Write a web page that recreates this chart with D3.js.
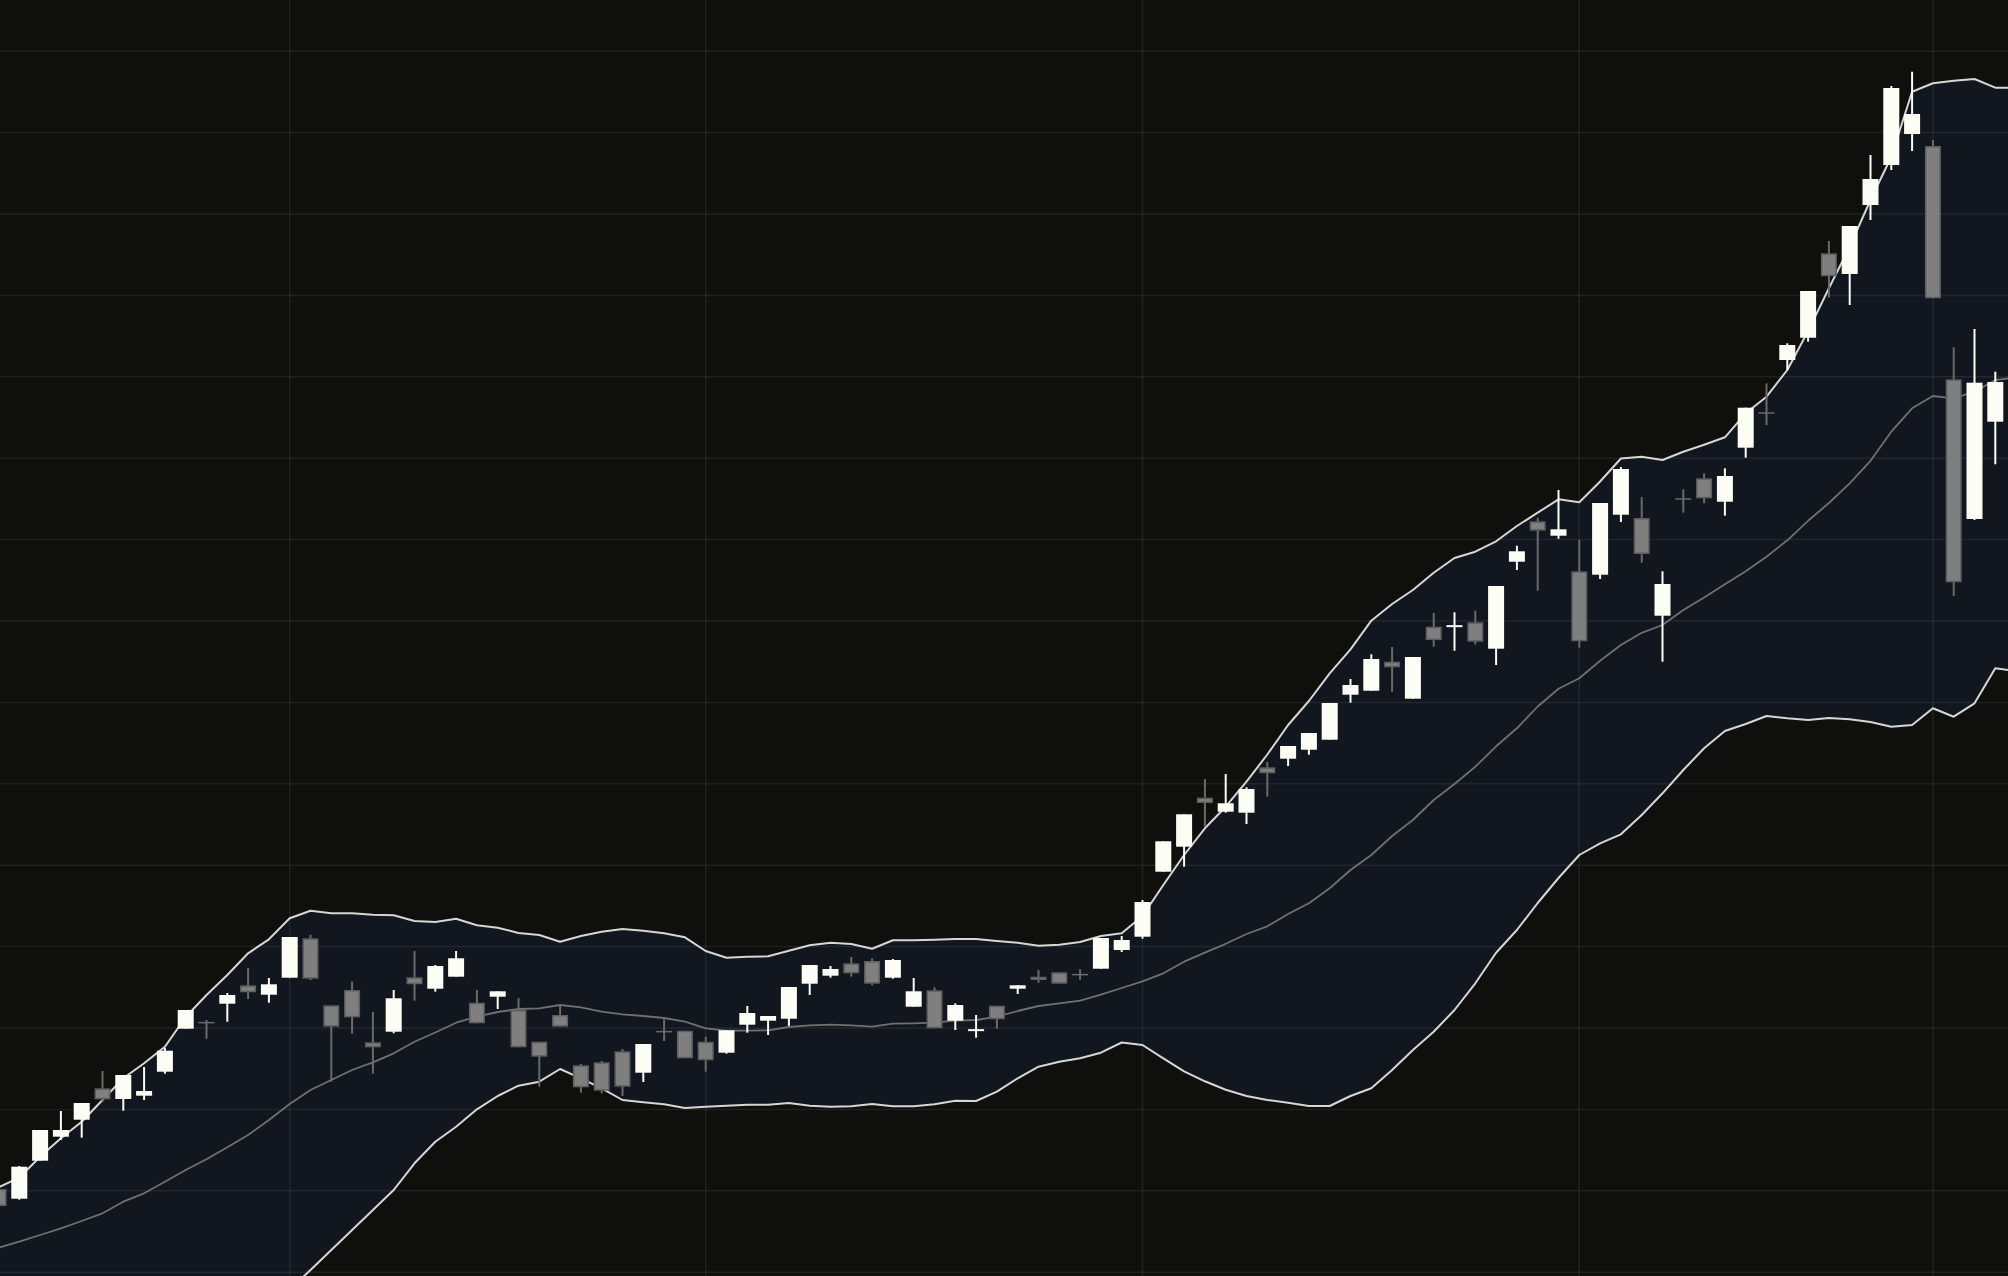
<!DOCTYPE html>
<html>
<head>
<meta charset="utf-8">
<script src="https://cdn.jsdelivr.net/npm/d3@7"></script>
<style>
html,body{margin:0;padding:0;background:#0f0f0e;overflow:hidden}
svg{display:block}
</style>
</head>
<body>
<svg id="chart"></svg>
<script>
// ---- candle data (index = trading day) ----
const open  = [21.1, 20.13, 23.93, 26.33, 28.03, 31.17, 30.1, 30.43, 32.83, 37.13, 37.77, 39.63, 41.47, 40.53, 42.23, 46.17, 39.47, 41.0, 35.77, 36.83, 42.27, 41.13, 42.33, 39.73, 40.33, 39.0, 35.83, 38.5, 33.47, 33.77, 34.87, 32.73, 36.87, 36.93, 35.83, 34.73, 37.53, 37.93, 38.13, 41.63, 42.43, 43.67, 43.9, 42.23, 39.33, 40.97, 37.93, 36.97, 39.43, 41.13, 42.33, 42.77, 42.57, 43.13, 45.0, 46.33, 52.83, 55.33, 60.23, 58.83, 58.73, 63.27, 64.13, 65.03, 66.03, 70.53, 70.93, 73.83, 70.13, 77.33, 77.37, 77.77, 75.13, 83.83, 87.87, 86.43, 82.87, 82.53, 88.53, 88.2, 78.43, 90.13, 92.17, 89.83, 95.23, 98.73, 104.0, 106.23, 114.67, 112.6, 119.5, 123.5, 126.6, 125.4, 102.07, 88.1, 97.83];
const high  = [21.3, 23.4, 27.0, 28.9, 29.7, 32.9, 32.5, 33.3, 35.2, 39.0, 38.0, 40.7, 43.2, 42.2, 46.3, 46.53, 39.47, 41.83, 38.8, 41.0, 44.9, 43.5, 44.9, 41.0, 40.87, 40.2, 35.83, 39.5, 33.6, 33.9, 35.1, 35.6, 38.07, 36.93, 36.33, 36.97, 39.4, 38.4, 41.3, 43.5, 43.4, 44.3, 44.17, 44.1, 42.2, 41.27, 39.67, 38.5, 39.43, 41.47, 43.0, 42.77, 43.07, 46.2, 46.4, 50.0, 55.87, 58.57, 62.1, 62.6, 61.27, 63.8, 65.4, 66.7, 69.7, 72.1, 74.57, 75.3, 74.3, 78.7, 78.77, 78.93, 81.4, 85.43, 88.23, 91.0, 86.0, 89.7, 93.3, 90.3, 82.87, 91.07, 92.67, 93.17, 99.23, 101.67, 105.67, 110.9, 115.9, 117.4, 124.5, 131.4, 132.83, 126.0, 105.27, 107.1, 102.83];
const low   = [19.2, 20.03, 23.93, 26.0, 26.23, 29.83, 28.93, 30.0, 32.63, 37.13, 36.13, 37.83, 40.1, 39.73, 42.23, 42.0, 31.83, 36.63, 32.63, 36.67, 39.93, 40.83, 42.33, 37.67, 39.1, 35.27, 31.33, 37.33, 30.73, 30.67, 30.4, 31.8, 35.9, 34.17, 32.83, 34.63, 36.73, 36.5, 37.4, 40.5, 42.23, 42.33, 41.47, 42.13, 39.33, 37.17, 37.0, 36.23, 37.13, 40.6, 41.73, 41.63, 42.03, 43.13, 44.8, 46.13, 52.83, 53.33, 57.33, 58.73, 57.6, 60.33, 63.4, 64.53, 66.03, 69.73, 70.93, 70.83, 70.13, 75.33, 74.93, 75.57, 73.5, 83.0, 80.93, 86.13, 75.23, 82.1, 87.8, 83.73, 73.83, 88.73, 89.67, 88.43, 94.23, 97.5, 103.0, 105.83, 110.23, 109.5, 118.0, 123.0, 124.9, 110.17, 80.4, 88.0, 93.57];
const close = [19.4, 23.33, 27.0, 27.0, 29.7, 30.07, 32.5, 30.9, 34.93, 39.0, 37.7, 40.5, 40.77, 41.57, 46.3, 42.13, 37.33, 38.27, 35.27, 40.17, 41.57, 43.4, 44.17, 37.67, 40.87, 35.27, 34.33, 37.33, 31.27, 30.93, 31.33, 35.6, 36.8, 34.17, 33.97, 36.97, 38.7, 38.4, 41.3, 43.5, 43.1, 42.67, 41.63, 44.0, 40.87, 37.17, 39.5, 37.0, 38.07, 41.47, 42.0, 41.63, 42.5, 46.2, 46.0, 49.8, 55.87, 58.57, 59.7, 59.67, 61.1, 62.67, 65.4, 66.7, 69.7, 71.5, 74.1, 73.27, 74.3, 76.0, 77.4, 75.83, 81.4, 84.87, 86.93, 87.07, 75.87, 89.7, 93.1, 84.6, 81.6, 90.07, 90.17, 92.4, 99.23, 98.67, 105.5, 110.9, 112.37, 117.4, 122.1, 131.2, 128.6, 110.17, 81.77, 101.73, 101.8];

// ---- Bollinger bands (one more point than candles: the next bar, just off the right edge) ----
const bbUpper  = [21.27, 22.23, 24.33, 26.17, 27.83, 30.0, 32.17, 33.67, 35.33, 38.3, 40.5, 42.5, 44.67, 46.07, 48.17, 48.93, 48.67, 48.67, 48.53, 48.47, 47.9, 47.8, 48.13, 47.47, 47.23, 46.7, 46.5, 45.83, 46.4, 46.83, 47.1, 46.93, 46.67, 46.27, 44.9, 44.23, 44.33, 44.37, 44.93, 45.47, 45.73, 45.6, 45.13, 45.97, 45.97, 46.03, 46.1, 46.1, 45.9, 45.73, 45.43, 45.53, 45.8, 46.4, 46.67, 48.4, 51.5, 54.5, 57.17, 59.33, 61.83, 64.55, 67.5, 69.9, 72.67, 75.07, 77.93, 79.6, 81.0, 82.73, 84.2, 84.83, 85.87, 87.4, 88.73, 90.07, 89.77, 91.85, 94.15, 94.33, 94.0, 94.83, 95.53, 96.27, 98.67, 100.33, 103.0, 106.9, 111.17, 115.33, 120.0, 124.33, 130.83, 131.67, 131.93, 132.1, 131.23, 131.23];
const bbMiddle = [15.23, 15.83, 16.5, 17.17, 17.9, 18.67, 19.83, 20.67, 21.83, 23.0, 24.07, 25.27, 26.5, 28.0, 29.6, 31.0, 32.0, 33.0, 33.77, 34.67, 35.83, 36.75, 37.73, 38.33, 38.8, 39.1, 39.17, 39.5, 39.27, 38.83, 38.57, 38.4, 38.2, 37.83, 37.17, 36.93, 36.93, 36.97, 37.3, 37.47, 37.53, 37.47, 37.33, 37.63, 37.67, 37.73, 37.93, 38.0, 38.33, 38.9, 39.4, 39.67, 39.93, 40.53, 41.2, 41.87, 42.67, 43.83, 44.73, 45.62, 46.6, 47.37, 48.6, 49.67, 51.17, 53.0, 54.5, 56.4, 58.0, 60.0, 61.6, 63.33, 65.37, 67.17, 69.35, 71.12, 72.17, 73.92, 75.5, 76.72, 77.5, 79.0, 80.25, 81.58, 82.88, 84.33, 85.97, 87.92, 89.7, 91.67, 93.92, 96.83, 99.17, 100.4, 100.17, 100.83, 102.0, 102.25];
const bbLower  = [9.19, 9.43, 8.67, 8.17, 7.97, 7.34, 7.49, 7.67, 8.33, 7.7, 7.64, 8.04, 8.33, 9.93, 11.03, 13.0, 15.0, 17.0, 19.0, 21.0, 23.67, 25.83, 27.33, 29.07, 30.4, 31.43, 31.83, 33.1, 32.17, 31.17, 30.0, 29.77, 29.57, 29.2, 29.33, 29.43, 29.53, 29.53, 29.7, 29.43, 29.33, 29.37, 29.6, 29.37, 29.37, 29.57, 29.93, 29.9, 30.83, 32.17, 33.33, 33.83, 34.17, 34.73, 35.75, 35.5, 34.17, 32.87, 31.87, 31.03, 30.4, 30.0, 29.73, 29.4, 29.4, 30.4, 31.17, 33.0, 35.0, 36.83, 39.0, 41.67, 44.73, 47.0, 49.7, 52.2, 54.5, 55.67, 56.57, 58.5, 60.67, 63.0, 65.17, 66.9, 67.6, 68.4, 68.17, 68.0, 68.2, 68.07, 67.8, 67.33, 67.5, 69.17, 68.33, 69.67, 73.17, 72.9];

// ---- grid (price levels and bar indices of month starts) ----
const priceGrid   = [134.88, 126.74, 118.6, 110.46, 102.32, 94.18, 86.04, 77.9, 69.76, 61.62, 53.48, 45.34, 37.2, 29.06, 20.92, 12.78];
const monthStarts = [14, 34, 55, 76, 93];

const W = 2008, H = 1276;
const svg = d3.select('#chart').attr('width', W).attr('height', H);

svg.append('rect').attr('width', W).attr('height', H).attr('fill', '#0f0f0e');

const x = d3.scaleLinear().domain([0, 96]).range([-1.5, 1995.3]);
const y = d3.scaleLinear().domain([12.4, 140]).range([H, 0]);

const idx = d3.range(bbUpper.length);

// band fill
svg.append('path')
  .datum(idx)
  .attr('fill', '#11161f')
  .attr('d', d3.area().x(i => x(i)).y0(i => y(bbLower[i])).y1(i => y(bbUpper[i])));

// grid
const grid = svg.append('g').attr('stroke', 'rgba(255,255,255,0.075)').attr('stroke-width', 1.5);
grid.selectAll('line.h').data(priceGrid).join('line').attr('class', 'h')
  .attr('x1', 0).attr('x2', W).attr('y1', d => y(d)).attr('y2', d => y(d));
grid.selectAll('line.v').data(monthStarts).join('line').attr('class', 'v')
  .attr('y1', 0).attr('y2', H).attr('x1', d => x(d)).attr('x2', d => x(d));

// band lines
const lineOf = arr => d3.line().x(i => x(i)).y(i => y(arr[i]));
svg.append('path').datum(idx).attr('fill', 'none').attr('stroke', '#707070').attr('stroke-width', 1.8)
  .attr('stroke-linejoin', 'round').attr('d', lineOf(bbMiddle));
svg.append('path').datum(idx).attr('fill', 'none').attr('stroke', '#d6d6d4').attr('stroke-width', 2)
  .attr('stroke-linejoin', 'round').attr('d', lineOf(bbUpper));
svg.append('path').datum(idx).attr('fill', 'none').attr('stroke', '#d6d6d4').attr('stroke-width', 2)
  .attr('stroke-linejoin', 'round').attr('d', lineOf(bbLower));

// candles
const UP = '#fcfef6', DOWN_FILL = '#7f7f7f', DOWN_EDGE = '#5e5e5e', DOWN_WICK = '#6a6a6a';
const bodyW = 16;
const candles = d3.range(open.length).map(i => ({i, o: open[i], h: high[i], l: low[i], c: close[i]}));

const g = svg.append('g');
g.selectAll('line.wick').data(candles).join('line').attr('class', 'wick')
  .attr('x1', d => x(d.i)).attr('x2', d => x(d.i))
  .attr('y1', d => y(d.h)).attr('y2', d => y(d.l))
  .attr('stroke', d => d.c >= d.o ? UP : DOWN_WICK)
  .attr('stroke-width', 2);

g.selectAll('rect.body').data(candles).join('rect').attr('class', 'body')
  .each(function(d) {
    const up = d.c >= d.o;
    const top = y(Math.max(d.o, d.c));
    const bot = y(Math.min(d.o, d.c));
    const hgt = bot - top;
    const r = d3.select(this);
    if (up) {
      const hh = Math.max(hgt, 2);
      r.attr('x', x(d.i) - bodyW / 2).attr('width', bodyW)
       .attr('y', top - (hh - hgt) / 2).attr('height', hh)
       .attr('fill', UP);
    } else if (hgt >= 2.5) {
      r.attr('x', x(d.i) - bodyW / 2 + 0.75).attr('width', bodyW - 1.5)
       .attr('y', top + 0.75).attr('height', hgt - 1.5)
       .attr('fill', DOWN_FILL).attr('stroke', DOWN_EDGE).attr('stroke-width', 1.5);
    } else {
      const hh = Math.max(hgt, 1.5);
      r.attr('x', x(d.i) - bodyW / 2).attr('width', bodyW)
       .attr('y', top - (hh - hgt) / 2).attr('height', hh)
       .attr('fill', DOWN_WICK);
    }
  });
</script>
</body>
</html>
